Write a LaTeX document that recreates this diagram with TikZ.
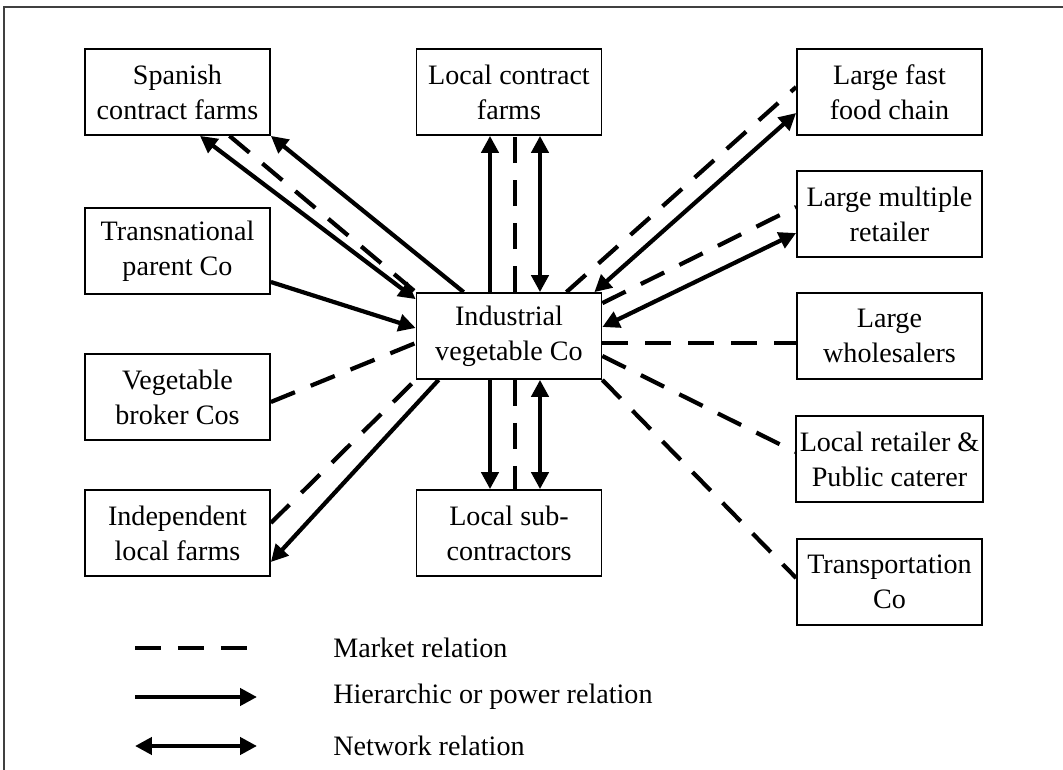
\documentclass[tikz,border=0pt]{standalone}
\usepackage{fontspec}
\setmainfont{Liberation Serif}
\usetikzlibrary{arrows.meta, calc}
\tikzset{
	box/.style       ={rectangle, draw=black, line width=1pt, minimum width=3.7cm, minimum height=1.72cm, text centered, align=center, inner sep=2pt},
	% relation styles
	market/.style    ={line width=2.4pt, dash pattern=on 0.52cm off 0.34cm},
	hierarchic/.style={-{Triangle[length=0.34cm, width=0.34cm]}, line width=2.4pt},
	network/.style   ={{Triangle[length=0.34cm, width=0.34cm]}-{Triangle[length=0.34cm, width=0.34cm]}, line width=2.4pt},
}

\begin{document}
\begin{tikzpicture}[x=0.02cm, y=-0.02cm, font=\fontsize{16}{20}\selectfont]
	\useasboundingbox (0,0) rectangle (1063,770);
	\draw[line width=1pt, black!75] (4,770) -- (4,7) -- (1063,7);
	% left column
	\node[box] (spa) at (177.5,92)  {Spanish\\contract farms};
	\node[box] (tpc) at (177.5,251) {Transnational\\parent Co};
	\node[box] (vbc) at (177.5,397) {Vegetable\\broker Cos};
	\node[box] (ilf) at (177.5,533) {Independent\\local farms};
	% middle column
	\node[box] (lcf) at (509,92)  {Local contract\\farms};
	\node[box] (ind) at (509,336) {Industrial\\vegetable Co};
	\node[box] (lsc) at (509,533) {Local sub-\\contractors};
	% right column
	\node[box] (ffc) at (889.5,92)  {Large fast\\food chain};
	\node[box] (lmr) at (889.5,214) {Large multiple\\retailer};
	\node[box] (lw)  at (889.5,336) {Large\\wholesalers};
	\node[box] (lrp) at (889.5,459) {Local retailer \&\\Public caterer};
	\node[box] (tco) at (889.5,582) {Transportation\\Co};
	% relations on the left
	\draw[network] ($(spa.south)+(22.5,0)$) -- ($(ind.north west)+(0,7)$);
	\draw[market] ($(spa.south)+(52,0)$) -- (ind.north west);
	\draw[hierarchic] ($(ind.north west)+(48,0)$) -- (spa.south east);
	\draw[hierarchic] ($(tpc.east)+(0,31)$) -- ($(ind.west)+(0,-8)$);
	\draw[market] ($(vbc.east)+(0,5)$) -- ($(ind.west)+(0,7)$);
	\draw[market] ($(ilf.east)+(0,-10)$) -- (ind.south west);
	\draw[hierarchic] ($(ind.south west)+(23,0)$) -- ($(ilf.east)+(0,29)$);
	% relations up and down
	\draw[hierarchic] ($(ind.north)+(-19,0)$) -- ($(lcf.south)+(-19,0)$);
	\draw[market] ($(ind.north)+(6,0)$) -- ($(lcf.south)+(6,0)$);
	\draw[network] ($(ind.north)+(31,0)$) -- ($(lcf.south)+(31,0)$);
	\draw[hierarchic] ($(ind.south)+(-19,0)$) -- ($(lsc.north)+(-19,0)$);
	\draw[market] ($(ind.south)+(6,0)$) -- ($(lsc.north)+(6,0)$);
	\draw[network] ($(ind.south)+(31,0)$) -- ($(lsc.north)+(31,0)$);
	% relations on the right
	\draw[market] ($(ind.north east)+(-36,0)$) -- ($(ffc.west)+(0,-5)$);
	\draw[network] ($(ind.north east)+(-8,0)$) -- ($(ffc.west)+(0,21)$);
	\draw[market] ($(ind.north east)+(0,11)$) -- ($(lmr.west)+(0,-7)$);
	\draw[network] ($(ind.east)+(0,-9)$) -- ($(lmr.west)+(0,19)$);
	\draw[market] ($(ind.east)+(0,7)$) -- ($(lw.west)+(0,7)$);
	\draw[market] ($(ind.east)+(0,20)$) -- ($(lrp.west)+(0,-7)$);
	\draw[market] (ind.south east) -- ($(tco.west)+(0,-4)$);
	% legend
	\coordinate (m1) at (135,648); \coordinate (m2) at (248,648);
	\coordinate (h1) at (135,697); \coordinate (h2) at (257,697);
	\coordinate (n1) at (135,746); \coordinate (n2) at (257,746);
	\draw[market] (m1) -- (m2);
	\draw[hierarchic] (h1) -- (h2);
	\draw[network] (n1) -- (n2);
	\node[anchor=west, inner sep=0pt] (mtxt) at (333,648) {Market relation};
	\node[anchor=west, inner sep=0pt] (htxt) at (333,697) {Hierarchic or power relation};
	\node[anchor=west, inner sep=0pt] (ntxt) at (333,746) {Network relation};
\end{tikzpicture}
\end{document}
